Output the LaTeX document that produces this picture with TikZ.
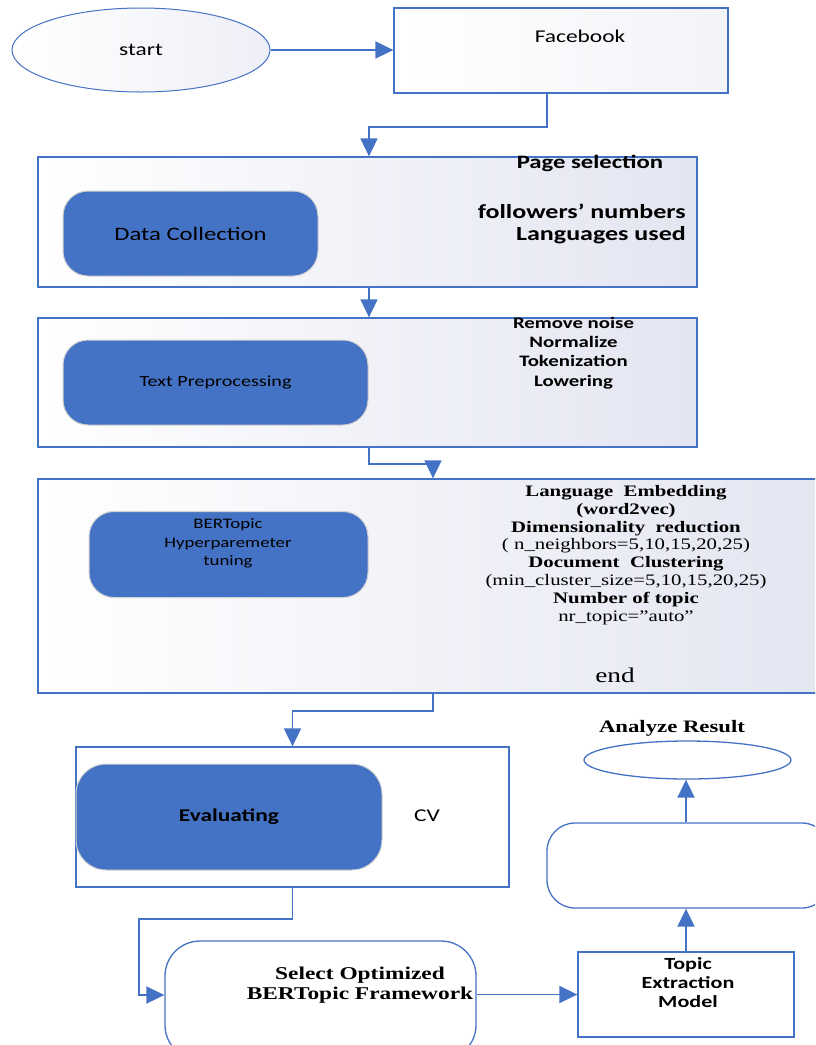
\documentclass[tikz,border=0pt]{standalone}
\usepackage{fontspec}
\setmainfont[FakeStretch=1.3]{Carlito}
\newfontfamily\tnr[FakeStretch=1.3]{Liberation Serif}
\usetikzlibrary{shapes.geometric,arrows.meta,calc}
\definecolor{bl}{HTML}{4472C4}
\definecolor{lav}{HTML}{E3E5F1}
\newcommand{\fsz}[2]{\fontsize{#1}{#2}\selectfont}
\begin{document}
\begin{tikzpicture}[x=1pt,y=-1pt,
  panel/.style={draw=bl, line width=1.3pt, left color=white, right color=lav, inner sep=0pt},
  blob/.style={fill=bl, draw=gray!35, line width=1pt, rounded corners=25pt, inner sep=0pt, align=center},
  outl/.style={draw=bl, line width=1.3pt, fill=white, inner sep=0pt},
  arr/.style={draw=bl, line width=1.8pt, -{Triangle[length=18pt,width=17pt]}},
  txt/.style={inner sep=0pt, align=center, text=black}
]
\useasboundingbox (0,0) rectangle (815,1045);
\clip (0,0) rectangle (815,1045);

% top
\node[ellipse, draw=bl, line width=1pt, left color=white, right color=lav!60, minimum width=258pt, minimum height=84pt, inner sep=0pt, font=\fsz{18}{22}] (start) at (141,50) {start};
\node[panel, right color=lav!45, minimum width=334pt, minimum height=85pt] (fb) at (561,50.5) {};
\node[txt, font=\fsz{18}{22}] (fbt) at (580,36) {Facebook};

% box 1
\node[panel, minimum width=659pt, minimum height=130pt] (b1) at (367.5,222) {};
\node[blob, minimum width=255pt, minimum height=85pt, font=\fsz{19}{22}] (dc) at (190.5,233.5) {Data Collection};
\node[txt, font=\fsz{19}{22}\bfseries] (ps) at (590,163) {Page selection};
\node[txt, align=right, anchor=east, font=\fsz{20}{22}\bfseries] (fl) at (686,224) {followers’ numbers\\Languages used};

% box 2
\node[panel, minimum width=659pt, minimum height=129pt] (b2) at (367.5,382.5) {};
\node[blob, minimum width=305pt, minimum height=85pt, font=\fsz{15.5}{18}] (tp) at (215.5,382.5) {Text Preprocessing};
\node[txt, font=\fsz{16}{19.3}\bfseries] (rn) at (573.5,353) {Remove noise\\Normalize\\Tokenization\\Lowering};

% box 3
\node[panel, minimum width=792pt, minimum height=214pt] (b3) at (434,586) {};
\node[blob, minimum width=279pt, minimum height=86pt, anchor=north] (bt) at (228.5,511) {};
\node[txt, font=\fsz{14.5}{18.5}] (btt) at (228,543.5) {BERTopic\\Hyperparemeter\\tuning};
\node[txt, font=\tnr\fsz{16}{17.9}] (hp) at (626,555) {{\bfseries Language\ \ Embedding}\\{\bfseries (word2vec)}\\{\bfseries Dimensionality\ \ reduction}\\( n\_neighbors=5,10,15,20,25)\\{\bfseries Document\ \ Clustering}\\(min\_cluster\_size=5,10,15,20,25)\\{\bfseries Number of topic}\\nr\_topic=”auto”};
\node[txt, font=\tnr\fsz{21}{24}] (endt) at (615,675) {end};

% evaluation
\node[outl, minimum width=433pt, minimum height=140pt] (ev) at (292.5,817) {};
\node[blob, minimum width=306pt, minimum height=106pt, rounded corners=30pt, font=\fsz{18}{20}\bfseries] (evb) at (229,817) {Evaluating};
\node[txt, font=\fsz{18}{22}] (cv) at (427,816) {CV};

% bottom
\node[outl, rounded corners=35pt, minimum width=311pt, minimum height=119pt] (sel) at (320.5,1000.5) {};
\node[txt, font=\tnr\fsz{18}{20}\bfseries] (selt) at (360,985) {Select Optimized\\BERTopic Framework};
\node[outl, minimum width=216pt, minimum height=85pt] (top) at (686,994.5) {};
\node[txt, font=\fsz{17}{19}\bfseries] (topt) at (688,982.5) {Topic\\Extraction\\Model};
\node[outl, rounded corners=28pt, minimum width=283pt, minimum height=85pt] (emp) at (688.5,865.5) {};
\node[ellipse, outl, minimum width=207pt, minimum height=38pt] (ana) at (687.5,760) {};
\node[txt, font=\tnr\fsz{17.5}{20}\bfseries] (anat) at (672,728) {Analyze Result};

% connectors
\draw[arr] (start.east) -- (start.east -| fb.west);
\draw[arr] ([xshift=-14pt]fb.south) -- ++(0,33) -| ([xshift=1.5pt]b1.north);
\draw[arr] ([xshift=1.5pt]b1.south) -- ([xshift=1.5pt]b2.north);
\draw[arr] ([xshift=1.5pt]b2.south) -- ++(0,16) -| ([xshift=-1pt]b3.north);
\draw[arr] ([xshift=-1pt]b3.south) -- ++(0,17) -| (ev.north);
\draw[arr] (ev.south) -- ++(0,31) -- ++(-153.5,0) |- ([yshift=5.5pt]sel.west);
\draw[arr] (top.west -| sel.east) -- (top.west);
\draw[arr] (top.north) -- (top.north |- emp.south);
\draw[arr] (emp.north -| top.north) -- (ana.south -| top.north);
\end{tikzpicture}
\end{document}
